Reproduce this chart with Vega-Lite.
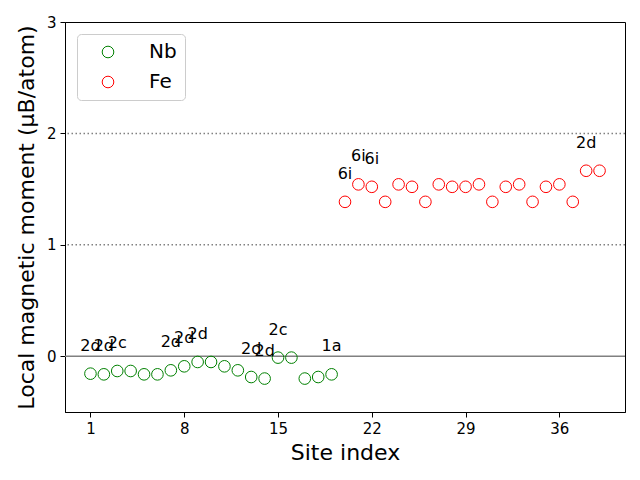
{
  "$schema": "https://vega.github.io/schema/vega-lite/v6.json",
  "autosize": "none",
  "width": 560,
  "height": 390,
  "padding": {"left": 65, "top": 22, "right": 15, "bottom": 68},
  "background": "white",
  "config": {
    "font": "DejaVu Sans",
    "view": {"stroke": "black", "strokeWidth": 1},
    "axis": {
      "grid": false,
      "labelFont": "DejaVu Sans",
      "titleFont": "DejaVu Sans",
      "labelFontSize": 15,
      "titleFontSize": 22,
      "titleFontWeight": "normal",
      "labelColor": "black",
      "titleColor": "black",
      "tickColor": "black",
      "domainColor": "black",
      "tickSize": 5,
      "labelPadding": 4
    },
    "legend": {
      "labelFont": "DejaVu Sans"
    }
  },
  "datasets": {
    "sites": [
      {"site": 1, "moment": -0.156, "element": "Nb", "label": "2d"},
      {"site": 2, "moment": -0.162, "element": "Nb", "label": "2d"},
      {"site": 3, "moment": -0.132, "element": "Nb", "label": "2c"},
      {"site": 4, "moment": -0.132, "element": "Nb", "label": ""},
      {"site": 5, "moment": -0.162, "element": "Nb", "label": ""},
      {"site": 6, "moment": -0.162, "element": "Nb", "label": ""},
      {"site": 7, "moment": -0.126, "element": "Nb", "label": "2d"},
      {"site": 8, "moment": -0.09, "element": "Nb", "label": "2d"},
      {"site": 9, "moment": -0.051, "element": "Nb", "label": "2d"},
      {"site": 10, "moment": -0.051, "element": "Nb", "label": ""},
      {"site": 11, "moment": -0.09, "element": "Nb", "label": ""},
      {"site": 12, "moment": -0.126, "element": "Nb", "label": ""},
      {"site": 13, "moment": -0.186, "element": "Nb", "label": "2d"},
      {"site": 14, "moment": -0.2, "element": "Nb", "label": "2d"},
      {"site": 15, "moment": -0.012, "element": "Nb", "label": "2c"},
      {"site": 16, "moment": -0.012, "element": "Nb", "label": ""},
      {"site": 17, "moment": -0.2, "element": "Nb", "label": ""},
      {"site": 18, "moment": -0.186, "element": "Nb", "label": ""},
      {"site": 19, "moment": -0.162, "element": "Nb", "label": "1a"},
      {"site": 20, "moment": 1.386, "element": "Fe", "label": "6i"},
      {"site": 21, "moment": 1.543, "element": "Fe", "label": "6i"},
      {"site": 22, "moment": 1.521, "element": "Fe", "label": "6i"},
      {"site": 23, "moment": 1.386, "element": "Fe", "label": ""},
      {"site": 24, "moment": 1.543, "element": "Fe", "label": ""},
      {"site": 25, "moment": 1.521, "element": "Fe", "label": ""},
      {"site": 26, "moment": 1.386, "element": "Fe", "label": ""},
      {"site": 27, "moment": 1.543, "element": "Fe", "label": ""},
      {"site": 28, "moment": 1.521, "element": "Fe", "label": ""},
      {"site": 29, "moment": 1.521, "element": "Fe", "label": ""},
      {"site": 30, "moment": 1.543, "element": "Fe", "label": ""},
      {"site": 31, "moment": 1.386, "element": "Fe", "label": ""},
      {"site": 32, "moment": 1.521, "element": "Fe", "label": ""},
      {"site": 33, "moment": 1.543, "element": "Fe", "label": ""},
      {"site": 34, "moment": 1.386, "element": "Fe", "label": ""},
      {"site": 35, "moment": 1.521, "element": "Fe", "label": ""},
      {"site": 36, "moment": 1.543, "element": "Fe", "label": ""},
      {"site": 37, "moment": 1.386, "element": "Fe", "label": ""},
      {"site": 38, "moment": 1.665, "element": "Fe", "label": "2d"},
      {"site": 39, "moment": 1.665, "element": "Fe", "label": ""}
    ]
  },
  "layer": [
    {
      "data": {"values": [{"y": 1}, {"y": 2}]},
      "mark": {"type": "rule", "color": "gray", "strokeWidth": 1.5, "strokeDash": [1.5, 2.5]},
      "encoding": {
        "y": {"field": "y", "type": "quantitative", "scale": {"domain": [-0.5, 3], "nice": false, "zero": false}}
      }
    },
    {
      "data": {"values": [{"y": 0}]},
      "mark": {"type": "rule", "color": "gray", "strokeWidth": 1.5},
      "encoding": {
        "y": {"field": "y", "type": "quantitative"}
      }
    },
    {
      "data": {"name": "sites"},
      "mark": {"type": "point", "shape": "circle", "filled": false, "size": 135, "strokeWidth": 1, "opacity": 1},
      "encoding": {
        "x": {
          "field": "site", "type": "quantitative",
          "scale": {"domain": [-0.9, 40.9], "nice": false, "zero": false},
          "axis": {"values": [1, 8, 15, 22, 29, 36], "format": "d", "title": "Site index", "titlePadding": 6}
        },
        "y": {
          "field": "moment", "type": "quantitative",
          "scale": {"domain": [-0.5, 3], "nice": false, "zero": false},
          "axis": {"values": [0, 1, 2, 3], "format": "d", "title": "Local magnetic moment (μB/atom)", "titlePadding": 8}
        },
        "color": {
          "field": "element", "type": "nominal",
          "scale": {"domain": ["Nb", "Fe"], "range": ["green", "red"]},
          "legend": {
            "title": null,
            "orient": "none",
            "legendX": 12,
            "legendY": 12,
            "padding": 8,
            "strokeColor": "#cccccc",
            "cornerRadius": 4,
            "fillColor": "white",
            "symbolType": "circle",
            "symbolSize": 135,
            "symbolStrokeWidth": 1,
            "symbolOffset": 13,
            "labelOffset": 31,
            "labelFontSize": 20,
            "labelColor": "black",
            "rowPadding": 10,
            "labelLimit": 200
          }
        }
      }
    },
    {
      "data": {"name": "sites"},
      "mark": {"type": "text", "fontSize": 16, "color": "black", "align": "center", "baseline": "middle", "dy": -28},
      "encoding": {
        "x": {"field": "site", "type": "quantitative"},
        "y": {"field": "moment", "type": "quantitative"},
        "text": {"field": "label", "type": "nominal"}
      }
    }
  ]
}
